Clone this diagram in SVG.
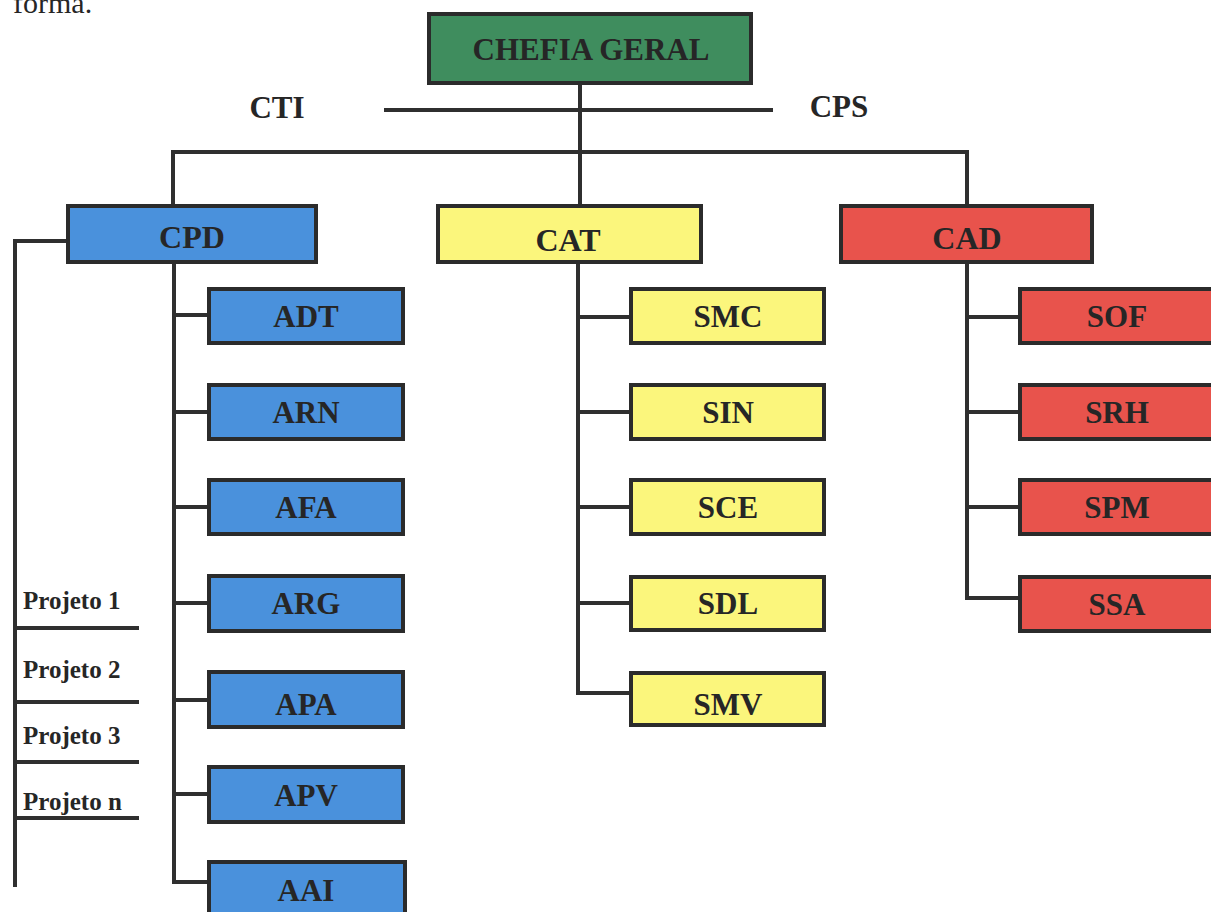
<svg xmlns="http://www.w3.org/2000/svg" width="1211" height="912" viewBox="0 0 1211 912">
<style>
text{font-family:"Liberation Serif","Times New Roman",serif;font-weight:bold;fill:#262626;text-anchor:middle}
.box{stroke:#2b2b2b;stroke-width:4}
.g{fill:#3f8d5e}.b{fill:#4a91dc}.y{fill:#fbf67c}.r{fill:#e8534c}
.main{font-size:32px}.sub{font-size:31px}.lbl{font-size:31px}
.prj{font-size:25px;text-anchor:start}
.ln{stroke:#2f2f2f;stroke-width:4;fill:none;stroke-linecap:square}
</style>
<rect width="1211" height="912" fill="#ffffff"/>
<text x="13" y="13" style="font-weight:normal;font-size:30px;text-anchor:start">forma.</text>
<g id="connectors">
<path class="ln" d="M580 83V205"/>
<path class="ln" d="M386 110H771"/>
<path class="ln" d="M173 152H967"/>
<path class="ln" d="M173 152V205M967 152V205"/>
<path class="ln" d="M67 241H15V885"/>
<path class="ln" d="M15 628H137M15 702H137M15 762H137M15 818H137"/>
<path class="ln" d="M174 262V882H208"/>
<path class="ln" d="M174 315H208M174 412H208M174 507H208M174 603H208M174 700H208M174 794H208"/>
<path class="ln" d="M578 262V693H630"/>
<path class="ln" d="M578 317H630M578 412H630M578 507H630M578 603H630"/>
<path class="ln" d="M967 262V598H1019"/>
<path class="ln" d="M967 317H1019M967 412H1019M967 507H1019"/>
</g>
<g id="chefia"><rect class="box g" x="429" y="14" width="322" height="69"/><text class="lbl" x="591" y="60">CHEFIA GERAL</text></g>
<g id="cti"><text class="lbl" x="277" y="118">CTI</text></g>
<g id="cps"><text class="lbl" x="839" y="117">CPS</text></g>
<g id="cpd"><rect class="box b" x="68" y="206" width="248" height="56"/><text class="main" x="192" y="248">CPD</text></g>
<g id="cat"><rect class="box y" x="438" y="206" width="263" height="56"/><text class="main" x="568" y="251">CAT</text></g>
<g id="cad"><rect class="box r" x="841" y="206" width="251" height="56"/><text class="main" x="967" y="249">CAD</text></g>
<g id="adt"><rect class="box b" x="209" y="289" width="194" height="54"/><text class="sub" x="306" y="327">ADT</text></g>
<g id="arn"><rect class="box b" x="209" y="385" width="194" height="54"/><text class="sub" x="306" y="423">ARN</text></g>
<g id="afa"><rect class="box b" x="209" y="480" width="194" height="54"/><text class="sub" x="306" y="518">AFA</text></g>
<g id="arg"><rect class="box b" x="209" y="576" width="194" height="55"/><text class="sub" x="306" y="614">ARG</text></g>
<g id="apa"><rect class="box b" x="209" y="672" width="194" height="55"/><text class="sub" x="306" y="715">APA</text></g>
<g id="apv"><rect class="box b" x="209" y="767" width="194" height="55"/><text class="sub" x="306" y="806">APV</text></g>
<g id="aai"><rect class="box b" x="209" y="862" width="196" height="60"/><text class="sub" x="306" y="901">AAI</text></g>
<g id="smc"><rect class="box y" x="631" y="289" width="193" height="54"/><text class="sub" x="728" y="327">SMC</text></g>
<g id="sin"><rect class="box y" x="631" y="385" width="193" height="54"/><text class="sub" x="728" y="423">SIN</text></g>
<g id="sce"><rect class="box y" x="631" y="480" width="193" height="54"/><text class="sub" x="728" y="518">SCE</text></g>
<g id="sdl"><rect class="box y" x="631" y="577" width="193" height="53"/><text class="sub" x="728" y="614">SDL</text></g>
<g id="smv"><rect class="box y" x="631" y="673" width="193" height="52"/><text class="sub" x="728" y="715">SMV</text></g>
<g id="sof"><rect class="box r" x="1020" y="289" width="196" height="54"/><text class="sub" x="1117" y="327">SOF</text></g>
<g id="srh"><rect class="box r" x="1020" y="385" width="196" height="54"/><text class="sub" x="1117" y="423">SRH</text></g>
<g id="spm"><rect class="box r" x="1020" y="480" width="196" height="54"/><text class="sub" x="1117" y="518">SPM</text></g>
<g id="ssa"><rect class="box r" x="1020" y="577" width="196" height="54"/><text class="sub" x="1117" y="615">SSA</text></g>
<g id="projetos">
<text class="prj" x="23" y="609">Projeto 1</text>
<text class="prj" x="23" y="678">Projeto 2</text>
<text class="prj" x="23" y="744">Projeto 3</text>
<text class="prj" x="23" y="810">Projeto n</text>
</g>
</svg>
